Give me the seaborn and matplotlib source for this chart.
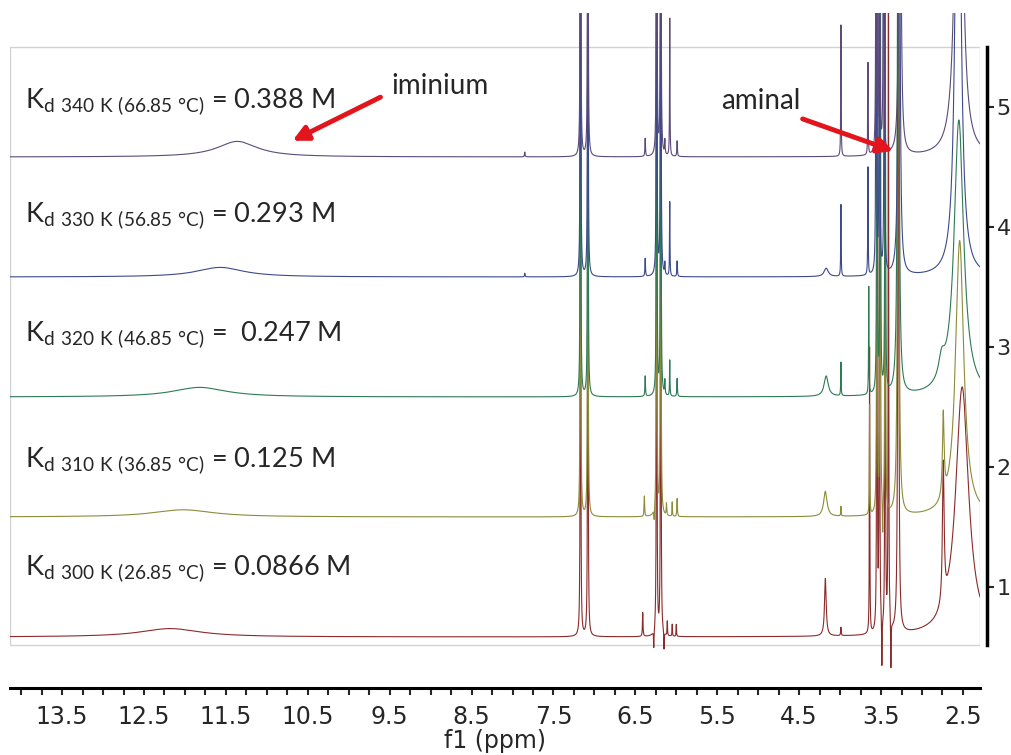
import numpy as np
import pandas as pd
import matplotlib
matplotlib.use('Agg')
import matplotlib.pyplot as plt
from matplotlib.patches import Rectangle
from matplotlib.ticker import MultipleLocator
import seaborn as sns

# stacked VT 1H NMR spectra, peak lists
temps = ['300 K', '310 K', '320 K', '330 K', '340 K']
offsets = [0.583, 1.583, 2.583, 3.583, 4.583]
colors = ['#8b2a2a', '#8c8c3a', '#2e7a55', '#3c4a8c', '#5b4a7a']
celsius = ['26.85', '36.85', '46.85', '56.85', '66.85']
kd_values = ['0.0866', '0.125', ' 0.247', '0.293', '0.388']
ppm_ticks = [13.5, 12.5, 11.5, 10.5, 9.5, 8.5, 7.5, 6.5, 5.5, 4.5, 3.5, 2.5]
y_ticks = [1, 2, 3, 4, 5]

# (ppm, height, half width)
peaks_300 = [(12.18, 0.07, 0.45), (7.17, 7, 0.003), (7.08, 7, 0.003),
             (6.41, 0.2, 0.004), (6.24, 7, 0.003), (6.19, 7, 0.003),
             (6.275, -0.15, 0.003), (6.15, -0.15, 0.003), (6.11, 0.12, 0.003),
             (6.05, 0.1, 0.003), (6.00, 0.1, 0.003), (4.18, 0.48, 0.012),
             (3.99, 0.07, 0.004), (3.64, 2.4, 0.003), (3.55, 7, 0.003),
             (3.52, 7, 0.003), (3.45, 7, 0.003), (3.41, 7, 0.003),
             (3.49, -0.4, 0.003), (3.38, -0.4, 0.003), (3.29, 7, 0.006),
             (2.74, 1.17, 0.012), (2.51, 2.08, 0.095)]
peaks_310 = [(12.02, 0.06, 0.45), (7.17, 7, 0.003), (7.08, 7, 0.003),
             (6.39, 0.17, 0.004), (6.24, 7, 0.003), (6.19, 7, 0.003),
             (6.27, -0.1, 0.003), (6.12, 0.1, 0.004), (6.05, 0.12, 0.003),
             (5.99, 0.15, 0.004), (4.18, 0.21, 0.025), (3.99, 0.08, 0.003),
             (3.64, 0.92, 0.003), (3.55, 7, 0.003), (3.51, 7, 0.003),
             (3.45, 7, 0.003), (3.48, -0.3, 0.003), (3.29, 7, 0.008),
             (2.74, 0.7, 0.012), (2.54, 2.3, 0.06)]
peaks_320 = [(11.82, 0.08, 0.4), (7.17, 7, 0.003), (7.08, 7, 0.003),
             (6.38, 0.17, 0.004), (6.24, 7, 0.003), (6.19, 7, 0.003),
             (6.14, 0.12, 0.004), (6.08, 0.3, 0.003), (5.99, 0.15, 0.004),
             (4.17, 0.17, 0.03), (3.99, 0.28, 0.003), (3.65, 0.9, 0.003),
             (3.55, 7, 0.003), (3.51, 7, 0.003), (3.45, 7, 0.003),
             (3.29, 7, 0.009), (2.76, 0.18, 0.045), (2.55, 2.3, 0.07)]
peaks_330 = [(11.57, 0.08, 0.35), (7.85, 0.03, 0.004), (7.17, 7, 0.003),
             (7.08, 7, 0.003), (6.38, 0.15, 0.004), (6.24, 7, 0.003),
             (6.19, 7, 0.003), (6.14, 0.1, 0.004), (6.08, 0.62, 0.003),
             (5.99, 0.13, 0.004), (4.17, 0.07, 0.03), (3.99, 0.6, 0.003),
             (3.66, 0.9, 0.003), (3.56, 7, 0.003), (3.52, 7, 0.003),
             (3.46, 7, 0.003), (3.28, 7, 0.009), (2.56, 5, 0.035)]
peaks_340 = [(11.36, 0.13, 0.30), (7.85, 0.04, 0.004), (7.17, 7, 0.003),
             (7.08, 7, 0.003), (6.38, 0.15, 0.004), (6.24, 7, 0.003),
             (6.19, 7, 0.003), (6.14, 0.12, 0.004), (6.08, 1.15, 0.003),
             (5.99, 0.13, 0.004), (3.99, 1.1, 0.003), (3.66, 0.77, 0.003),
             (3.56, 7, 0.003), (3.52, 7, 0.003), (3.47, 7, 0.003),
             (3.27, 7, 0.009), (2.55, 6, 0.035)]
peak_lists = [peaks_300, peaks_310, peaks_320, peaks_330, peaks_340]


def lorentz_sum(ppm, peaks):
    out = np.zeros_like(ppm)
    for x0, h, hw in peaks:
        out += h * hw ** 2 / ((ppm - x0) ** 2 + hw ** 2)
    return out


ppm = np.linspace(14.2, 2.25, 24000)
frames = []
for t, off, pk in zip(temps, offsets, peak_lists):
    frames.append(pd.DataFrame({'ppm': ppm, 'y': off + lorentz_sum(ppm, pk), 'temp': t}))
df = pd.concat(frames, ignore_index=True)

sns.set_style('white')
plt.rcParams['font.family'] = ['DejaVu Sans']
plt.rcParams['mathtext.fontset'] = 'custom'
plt.rcParams['mathtext.rm'] = 'Lato'

fig = plt.figure(figsize=(10.12, 7.55), dpi=100)
ax = fig.add_axes([10 / 1012, 85 / 755, 970 / 1012, 657 / 755])

sns.lineplot(data=df, x='ppm', y='y', hue='temp', hue_order=temps, palette=colors,
             estimator=None, lw=0.8, legend=False, ax=ax)

x_left, x_right = 14.136, 2.292
ax.set_xlim(x_left, x_right)
ax.set_ylim(0.308, 5.783)

ax.add_patch(Rectangle((x_left, 0.517), x_right - x_left, 5.5 - 0.517, fill=False,
                       ec='#d2d2d2', lw=1, zorder=0))

for s in ['top', 'left']:
    ax.spines[s].set_visible(False)
ax.spines['right'].set_position(('outward', 5))
ax.spines['right'].set_bounds(0.517, 5.5)
ax.spines['right'].set_linewidth(2.5)
ax.spines['right'].set_color('black')
ax.spines['bottom'].set_position(('outward', 13))
ax.spines['bottom'].set_linewidth(2.2)
ax.spines['bottom'].set_color('black')

ax.yaxis.tick_right()
ax.set_yticks(y_ticks)
ax.tick_params(axis='y', direction='out', length=5, width=1.5, labelsize=16, pad=2,
               left=False, right=True, labelleft=False, labelright=True)
ax.set_xticks(ppm_ticks)
ax.set_xticklabels([f'{v:.1f}' for v in ppm_ticks])
ax.xaxis.set_minor_locator(MultipleLocator(0.25))
ax.tick_params(axis='x', which='both', direction='out', length=5, width=1.5,
               labelsize=17, pad=7, bottom=True)
ax.set_xlabel('f1 (ppm)', fontsize=17, labelpad=0)
ax.set_ylabel('')

label_y = [1.15, 2.05, 3.10, 4.09, 5.04]
for t, c, kd, ly in zip(temps, celsius, kd_values, label_y):
    kelvin = t.replace(' ', '\\ ')
    sub = f'd\\ {kelvin}\\ ({c}\\ °C)'
    txt = f'K$_{{\\mathregular{{{sub}}}}}$ = {kd} M'
    ax.text(13.95, ly, txt, fontsize=19.5, family=['Lato', 'DejaVu Sans'],
            ha='left', va='center')

arrow = dict(arrowstyle='-|>,head_width=0.45,head_length=0.9', color='#e3151c', lw=3.5)
ax.annotate('', xy=(10.717, 4.708), xytext=(9.582, 5.092), arrowprops=arrow)
ax.annotate('', xy=(3.318, 4.625), xytext=(4.490, 4.908), arrowprops=arrow)
ax.text(8.88, 5.175, 'iminium', fontsize=20, family=['Lato', 'DejaVu Sans'],
        ha='center', va='center')
ax.text(4.966, 5.05, 'aminal', fontsize=20, family=['Lato', 'DejaVu Sans'],
        ha='center', va='center')

fig.savefig('out.png', dpi=100)
